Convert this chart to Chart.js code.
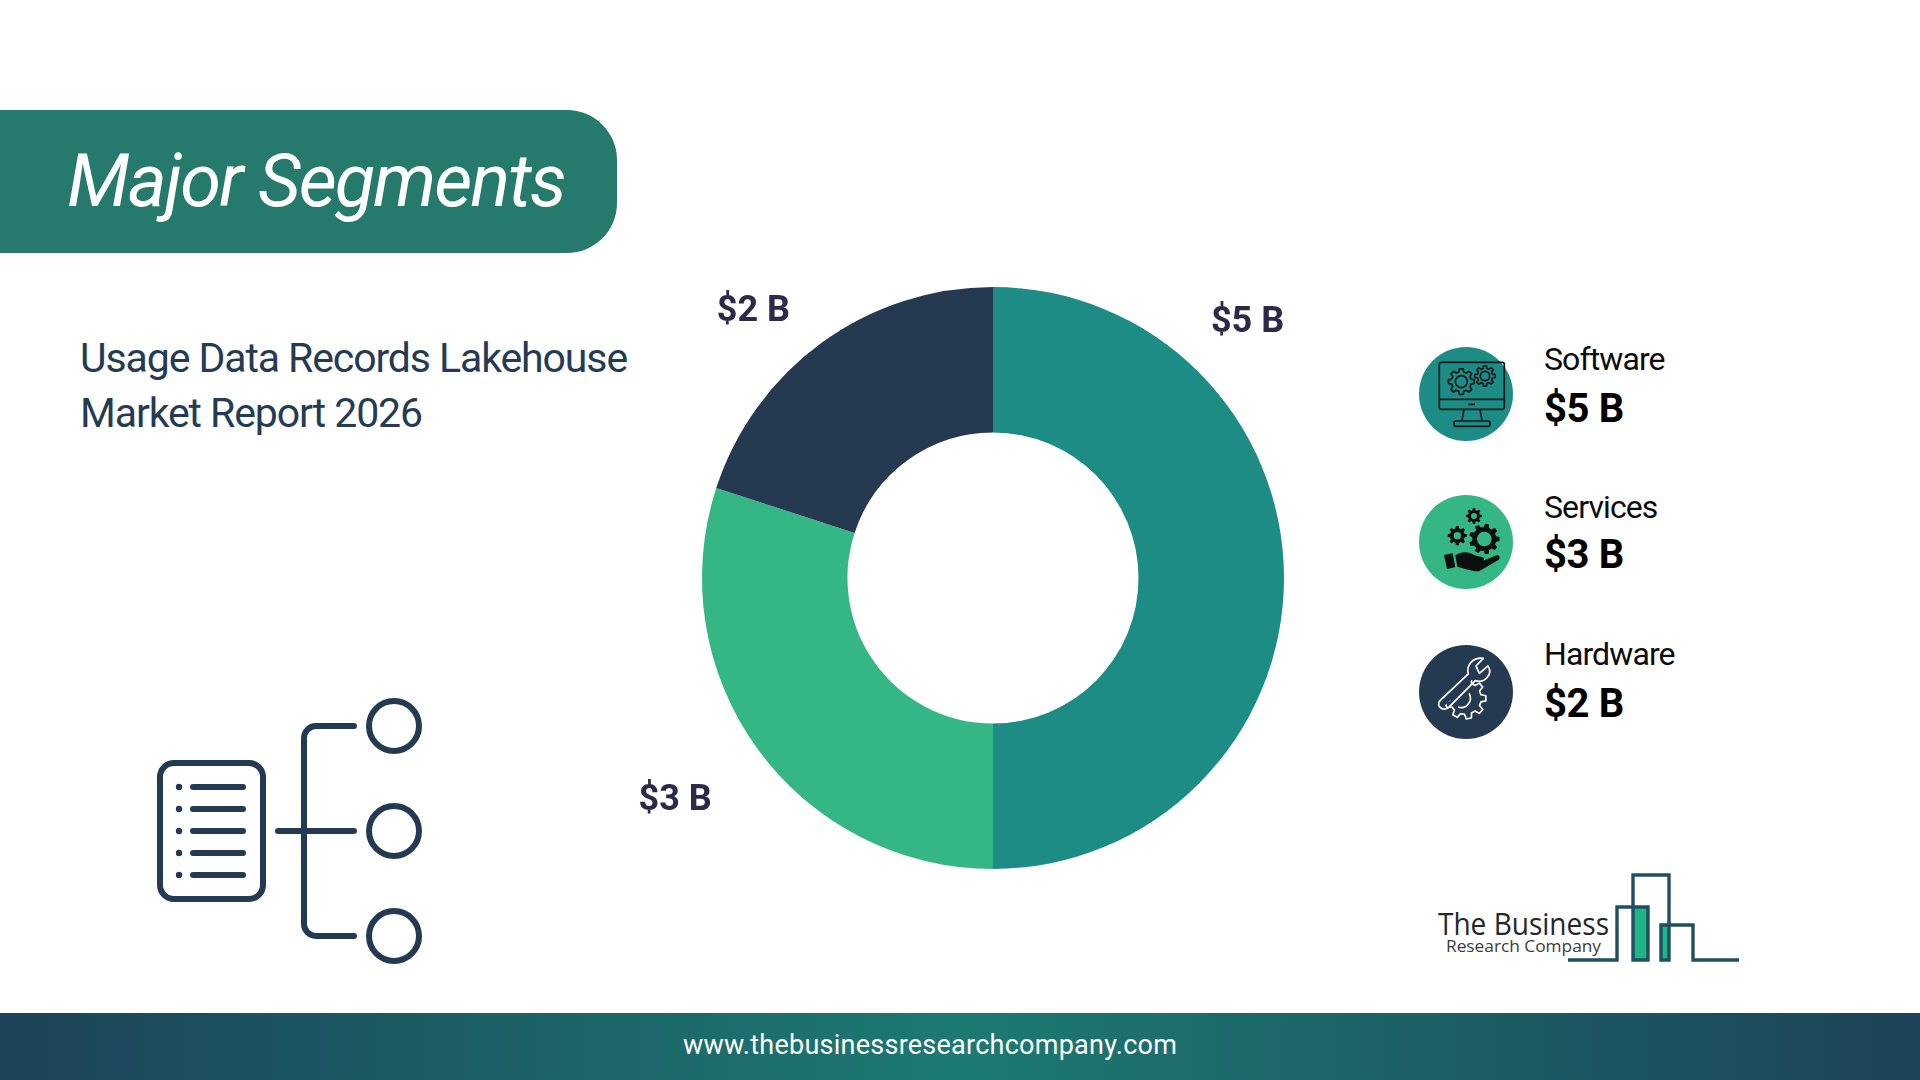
<!DOCTYPE html>
<html>
<head>
<meta charset="utf-8">
<title>Major Segments</title>
<script src="https://cdn.jsdelivr.net/npm/chart.js@4/dist/chart.umd.min.js"></script>
<style>
    html, body { margin: 0; padding: 0; background: #fff; }
    body { width: 1920px; height: 1080px; position: relative; overflow: hidden; font-family: Roboto, sans-serif; }
    #page { position: absolute; left: 0; top: 0; }
    #chart-box { position: absolute; left: 493px; top: 178px; width: 1000px; height: 800px; }
</style>
</head>
<body>
<svg id="page" width="1920" height="1080" viewBox="0 0 1920 1080" xmlns="http://www.w3.org/2000/svg">
    <defs>
        <linearGradient id="footerFill" x1="0" x2="1" y1="0" y2="0">
            <stop offset="0" stop-color="#1c4359"/>
            <stop offset="0.5" stop-color="#1c7a72"/>
            <stop offset="1" stop-color="#1c4359"/>
        </linearGradient>
        <clipPath id="wrenchGearClip"><path d="M215,1050 L300,1050 L300,1190 L130,1190 L130,1130 Z"/></clipPath>
    </defs>

    <!-- banner -->
    <path d="M0,110 H567 A50,50 0 0 1 617,160 V203 A50,50 0 0 1 567,253 H0 Z" fill="#257a6b"/>
    <text x="67" y="206" font-family="Roboto" font-style="italic" font-size="74" fill="#fff" letter-spacing="-1.9">Major Segments</text>

    <!-- subtitle -->
    <text x="80" y="372" font-family="Roboto" font-size="41" fill="#243b53" letter-spacing="-1.1">Usage Data Records Lakehouse</text>
    <text x="80" y="427" font-family="Roboto" font-size="41" fill="#243b53" letter-spacing="-1.1">Market Report 2026</text>

    <!-- document / tree icon -->
    <g fill="none" stroke="#223b52" stroke-width="6" stroke-linecap="round">
        <rect x="160" y="763" width="103" height="136" rx="14"/>
        <path d="M193,787 H243 M193,809 H243 M193,831 H243 M193,853 H243 M193,875 H243"/>
        <path d="M354,726 H316 A12,12 0 0 0 304,738 V924 A12,12 0 0 0 316,936 H354 M278,831 H354"/>
        <circle cx="394" cy="726" r="25"/>
        <circle cx="394" cy="831" r="25"/>
        <circle cx="394" cy="936" r="25"/>
    </g>
    <g fill="#223b52">
        <circle cx="179" cy="787" r="3.2"/><circle cx="179" cy="809" r="3.2"/><circle cx="179" cy="831" r="3.2"/>
        <circle cx="179" cy="853" r="3.2"/><circle cx="179" cy="875" r="3.2"/>
    </g>

    <!-- legend circles -->
    <circle id="dot-0" cx="1466" cy="394" r="47"/>
    <circle id="dot-1" cx="1466" cy="542" r="47"/>
    <circle id="dot-2" cx="1466" cy="692" r="47"/>

    <!-- legend icons, drawn in a 3x grid -->
    <g transform="translate(1400,330) scale(0.3333)">
        <g fill="none" stroke="#10181c" stroke-width="5" stroke-linejoin="round">
            <rect x="118" y="97" width="195" height="141" rx="6"/>
            <path d="M118,208 H313 M205,223 H225"/>
            <path d="M192,238 L186,272 M240,238 L246,272"/>
            <rect x="162" y="273" width="108" height="16" rx="6"/>
            <path id="gear-a"/><circle cx="184" cy="155" r="18"/>
            <path id="gear-b"/><circle cx="255" cy="138" r="14"/>
        </g>
        <g fill="#0c0f10">
            <path id="gear-c" fill-rule="evenodd"/>
            <path id="gear-d" fill-rule="evenodd"/>
            <path id="gear-e" fill-rule="evenodd"/>
            <path d="M132,675 L158,670 L166,712 L141,717 Z"/>
            <path d="M166,676 C185,664 205,664 224,676 L248,682 C256,686 252,696 240,695 L224,692 L246,694 L290,676 C300,674 302,686 294,691 L240,722 C225,728 200,716 172,710 Z"/>
        </g>
        <g fill="none" stroke="#fff" stroke-width="5" stroke-linejoin="round" stroke-linecap="round">
            <path d="M120,1112 L205,1032 C198,1005 218,982 250,985 L228,1008 L238,1030 L264,1008 C280,1032 254,1062 226,1052 L146,1132 C130,1146 106,1128 120,1112 Z"/>
            <g clip-path="url(#wrenchGearClip)"><path id="gear-f"/></g>
            <path d="M208,1092 A28,28 0 0 1 176,1132"/>
        </g>
    </g>

    <g id="legend-text"></g>

    <!-- logo -->
    <g>
        <rect x="1633" y="907" width="15" height="53" fill="#20b585"/>
        <rect x="1662" y="925" width="7" height="35" fill="#20b585"/>
        <path d="M1568,960 H1617 V907 H1648 V960 H1633 V875 H1669 V960 H1661 V925 H1693 V960 H1739" fill="none" stroke="#1f4f63" stroke-width="3.4"/>
        <text x="1438" y="935" font-family="'Open Sans'" font-size="31" fill="#26262b" textLength="171" lengthAdjust="spacingAndGlyphs">The Business</text>
        <text x="1446" y="952" font-family="'Open Sans'" font-size="17" fill="#3b3b40" textLength="155" lengthAdjust="spacingAndGlyphs">Research Company</text>
    </g>

    <!-- footer -->
    <rect x="0" y="1013" width="1920" height="67" fill="url(#footerFill)"/>
    <text x="930" y="1054" text-anchor="middle" font-family="Roboto" font-size="27" fill="#fff" letter-spacing="0.25">www.thebusinessresearchcompany.com</text>
</svg>

<div id="chart-box"><canvas id="segmentChart"></canvas></div>

<script>
// Data segmen
const segments = ['Software', 'Services', 'Hardware'];
const segmentValues = [5, 3, 2];
const valueLabels = ['$5 B', '$3 B', '$2 B'];

// Warna & posisi label
const segmentColors = ['#1c8c84', '#34b685', '#253a50'];
const labelNudgeDeg = [-45, 1, -6];
const labelDistance = [360, 388, 358];
const legendNameBaseline = [370, 518, 665];
const legendValueBaseline = [422, 568, 717];

const NS = 'http://www.w3.org/2000/svg';

// Roda gigi untuk ikon legenda
function gearPath(cx, cy, outer, inner, teeth, hole) {
    const step = Math.PI * 2 / teeth;
    let d = '';
    for (let i = 0; i < teeth; i++) {
        const a = i * step;
        const pts = [[inner, a - step * 0.32], [outer, a - step * 0.18], [outer, a + step * 0.18], [inner, a + step * 0.32]];
        pts.forEach((p, j) => {
            const x = (cx + p[0] * Math.cos(p[1])).toFixed(1);
            const y = (cy + p[0] * Math.sin(p[1])).toFixed(1);
            d += (i === 0 && j === 0 ? 'M' : 'L') + x + ',' + y + ' ';
        });
    }
    d += 'Z ';
    if (hole) {
        d += `M${cx + hole},${cy} A${hole},${hole} 0 1 0 ${cx - hole},${cy} A${hole},${hole} 0 1 0 ${cx + hole},${cy} Z`;
    }
    return d;
}

function renderIcons() {
    document.getElementById('gear-a').setAttribute('d', gearPath(184, 155, 39, 30, 8, 0));
    document.getElementById('gear-b').setAttribute('d', gearPath(255, 138, 31, 23, 8, 0));
    document.getElementById('gear-c').setAttribute('d', gearPath(253, 627, 46, 36, 9, 22));
    document.getElementById('gear-d').setAttribute('d', gearPath(172, 617, 29, 22, 8, 11));
    document.getElementById('gear-e').setAttribute('d', gearPath(222, 558, 24, 18, 8, 9));
    document.getElementById('gear-f').setAttribute('d', gearPath(196, 1105, 62, 48, 9, 0));
}

function renderLegend() {
    const box = document.getElementById('legend-text');
    segments.forEach((name, i) => {
        document.getElementById('dot-' + i).setAttribute('fill', segmentColors[i]);

        const label = document.createElementNS(NS, 'text');
        label.setAttribute('x', 1544);
        label.setAttribute('y', legendNameBaseline[i]);
        label.setAttribute('font-family', 'Roboto');
        label.setAttribute('font-size', 32);
        label.setAttribute('letter-spacing', -0.9);
        label.setAttribute('fill', '#0c0c0c');
        label.textContent = name;
        box.appendChild(label);

        const value = document.createElementNS(NS, 'text');
        value.setAttribute('x', 1544);
        value.setAttribute('y', legendValueBaseline[i]);
        value.setAttribute('font-family', 'Roboto');
        value.setAttribute('font-weight', 700);
        value.setAttribute('font-size', 40);
        value.setAttribute('letter-spacing', -0.4);
        value.setAttribute('fill', '#000');
        value.textContent = valueLabels[i];
        box.appendChild(value);
    });
}

// Label nilai di luar cincin
const sliceLabels = {
    id: 'sliceLabels',
    afterDatasetsDraw(chart) {
        const ctx = chart.ctx;
        ctx.save();
        ctx.font = '700 36px Roboto';
        ctx.fillStyle = '#2c2a49';
        ctx.textAlign = 'center';
        ctx.textBaseline = 'middle';
        chart.getDatasetMeta(0).data.forEach((arc, i) => {
            const angle = (arc.startAngle + arc.endAngle) / 2 + labelNudgeDeg[i] * Math.PI / 180;
            ctx.fillText(valueLabels[i], arc.x + Math.cos(angle) * labelDistance[i], arc.y + Math.sin(angle) * labelDistance[i]);
        });
        ctx.restore();
    }
};

function renderChart() {
    new Chart(document.getElementById('segmentChart'), {
        type: 'doughnut',
        data: {
            labels: segments,
            datasets: [{
                data: segmentValues,
                backgroundColor: segmentColors,
                borderWidth: 0
            }]
        },
        options: {
            responsive: true,
            maintainAspectRatio: false,
            animation: false,
            radius: 291,
            cutout: '50%',
            plugins: {
                legend: { display: false },
                tooltip: { enabled: false }
            }
        },
        plugins: [sliceLabels]
    });
}

renderIcons();
renderLegend();
renderChart();
</script>
</body>
</html>
